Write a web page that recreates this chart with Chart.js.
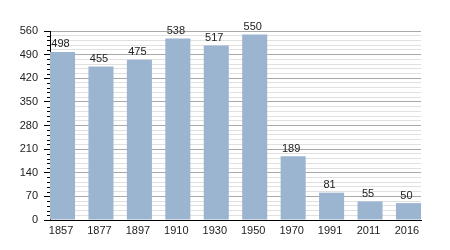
<!DOCTYPE html>
<html>
<head>
<meta charset="utf-8">
<script src="https://cdn.jsdelivr.net/npm/chart.js@4"></script>
<style>
  html, body { margin: 0; padding: 0; background: #fff; }
  canvas { display: block; }
</style>
</head>
<body>
<canvas id="popChart" width="450" height="250"></canvas>
<script>
// data
const years = ["1857", "1877", "1897", "1910", "1930", "1950", "1970", "1991", "2011", "2016"];
const population = [498, 455, 475, 538, 517, 550, 189, 81, 55, 50];
const yMajorTicks = [0, 70, 140, 210, 280, 350, 420, 490, 560];
const yMinorStep = 14;

const fontFamily = "'Liberation Sans', Arial, sans-serif";
const isMajor = v => yMajorTicks.includes(v);

// value labels above the bars + short minor ticks on the y axis
const extrasPlugin = {
    id: 'extras',
    afterDatasetsDraw(chart) {
        const c = chart.ctx;
        const meta = chart.getDatasetMeta(0);
        c.save();
        c.font = "11px " + fontFamily;
        c.fillStyle = "#222";
        c.textAlign = "center";
        c.textBaseline = "alphabetic";
        meta.data.forEach((bar, i) => {
            c.fillText(population[i], bar.x - 2, bar.y - 4.5);
        });
        c.restore();
    },
    afterDraw(chart) {
        const y = chart.scales.y;
        const c = chart.ctx;
        c.save();
        c.strokeStyle = "#000";
        c.lineWidth = 1;
        c.beginPath();
        y.ticks.forEach(t => {
            if (isMajor(t.value)) return;
            const py = Math.round(y.getPixelForValue(t.value)) + 0.5;
            c.moveTo(chart.chartArea.left - 3, py);
            c.lineTo(chart.chartArea.left, py);
        });
        c.stroke();
        c.restore();
    }
};

const ctx = document.getElementById("popChart").getContext("2d");

new Chart(ctx, {
    type: 'bar',
    data: {
        datasets: [{
            data: population.map((v, i) => ({ x: i, y: v })),
            backgroundColor: '#9bb4d0',
            borderWidth: 0,
            barPercentage: 0.652,
            categoryPercentage: 1
        }]
    },
    options: {
        responsive: false,
        animation: false,
        events: [],
        layout: { padding: { left: 0, right: 29, top: 31, bottom: 0 } },
        plugins: {
            legend: { display: false },
            tooltip: { enabled: false }
        },
        scales: {
            x: {
                type: 'linear',
                offset: false,
                min: -0.326,
                max: 9.326,
                afterBuildTicks: scale => {
                    scale.ticks = years.map((_, i) => ({ value: i }));
                },
                afterFit: scale => { scale.height = 30; },
                grid: { display: false, drawTicks: false },
                border: { display: true, color: '#000', width: 1 },
                ticks: {
                    autoSkip: false,
                    maxRotation: 0,
                    padding: 4,
                    labelOffset: -1.5,
                    color: '#222',
                    font: { family: fontFamily, size: 11 },
                    callback: v => years[v]
                }
            },
            y: {
                min: 0,
                max: 560,
                afterBuildTicks: scale => {
                    const t = [];
                    for (let v = 0; v <= 560; v += yMinorStep) t.push({ value: v });
                    scale.ticks = t;
                },
                afterFit: scale => { scale.width = 50; },
                grid: {
                    color: c => (c.tick && isMajor(c.tick.value)) ? '#a9a9a9' : '#e0e0e0',
                    tickColor: c => (c.tick && isMajor(c.tick.value)) ? '#000' : 'rgba(0,0,0,0)',
                    tickLength: 6
                },
                border: { display: true, color: '#000', width: 1 },
                ticks: {
                    autoSkip: false,
                    padding: 6,
                    color: '#222',
                    font: { family: fontFamily, size: 11 },
                    callback: v => isMajor(v) ? v : ''
                }
            }
        }
    },
    plugins: [extrasPlugin]
});
</script>
</body>
</html>
